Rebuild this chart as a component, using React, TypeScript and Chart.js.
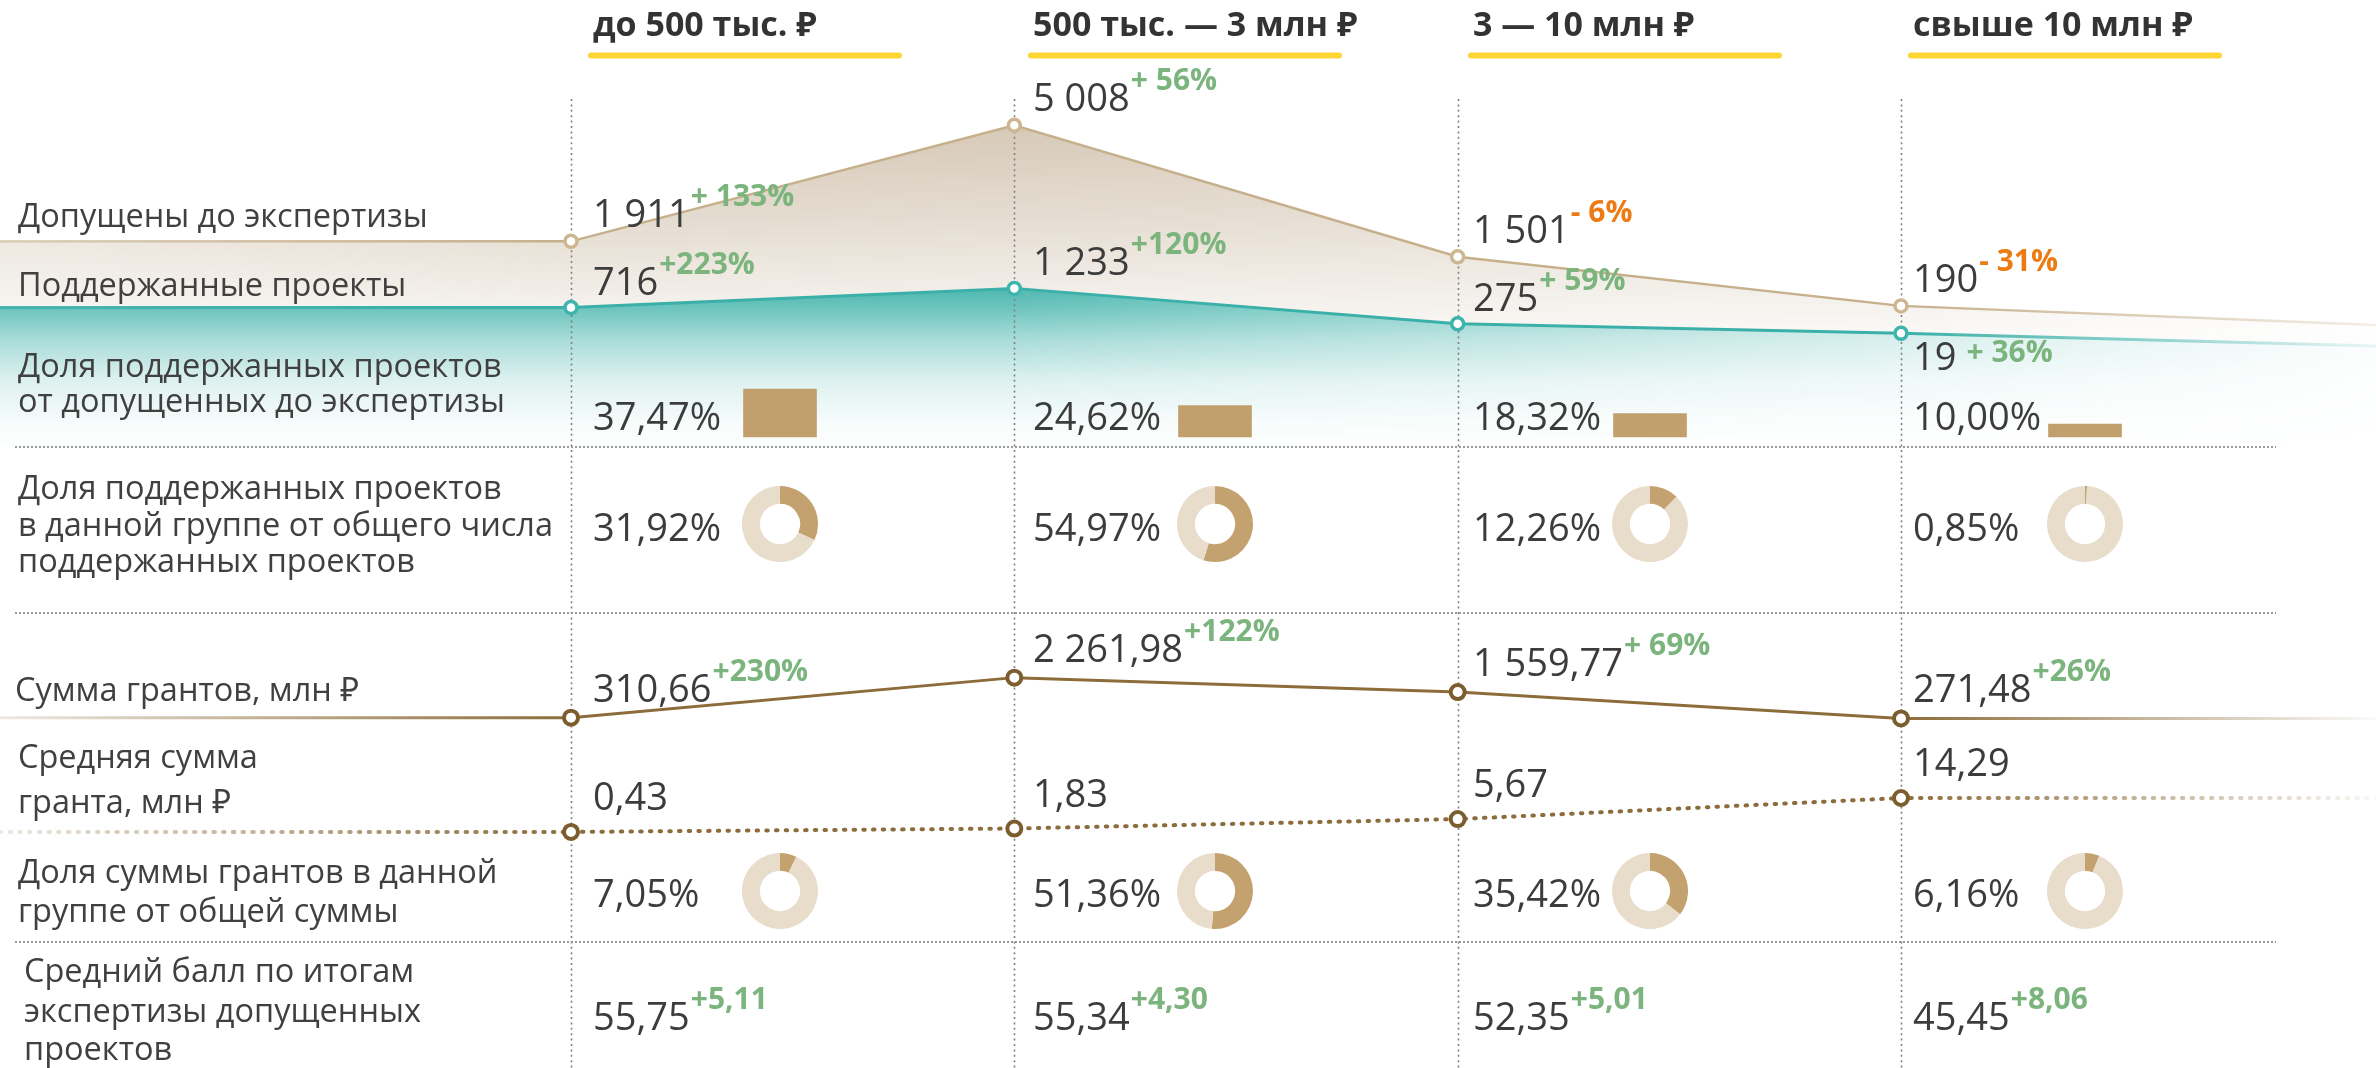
import React, { useEffect, useRef } from 'react';
import { Chart, registerables } from 'chart.js';

Chart.register(...registerables);

// ---------------- data ----------------
const groups = ['до 500 тыс. ₽', '500 тыс. — 3 млн ₽', '3 — 10 млн ₽', 'свыше 10 млн ₽'];

const admitted = [1911, 5008, 1501, 190];
const admittedChange = ['+ 133%', '+ 56%', '- 6%', '- 31%'];
const admittedEdges = [1911, -320]; // line level read at the left / right page edge

const supported = [716, 1233, 275, 19];
const supportedChange = ['+223%', '+120%', '+ 59%', '+ 36%'];
const supportedEdges = [716, -325];

const shareOfAdmitted = [37.47, 24.62, 18.32, 10.0];
const shareOfSupported = [31.92, 54.97, 12.26, 0.85];

const grantSum = [310.66, 2261.98, 1559.77, 271.48];
const grantSumChange = ['+230%', '+122%', '+ 69%', '+26%'];
const grantSumEdges = [310.66, 271.48];

const avgGrant = [0.43, 1.83, 5.67, 14.29];
const avgGrantEdges = [0.43, 14.29];

const shareOfGrantSum = [7.05, 51.36, 35.42, 6.16];

const avgScore = [55.75, 55.34, 52.35, 45.45];
const avgScoreChange = ['+5,11', '+4,30', '+5,01', '+8,06'];

const rowLabels = [
  ['Допущены до экспертизы'],
  ['Поддержанные проекты'],
  ['Доля поддержанных проектов', 'от допущенных до экспертизы'],
  ['Доля поддержанных проектов', 'в данной группе от общего числа', 'поддержанных проектов'],
  ['Сумма грантов, млн ₽'],
  ['Средняя сумма', 'гранта, млн ₽'],
  ['Доля суммы грантов в данной', 'группе от общей суммы'],
  ['Средний балл по итогам', 'экспертизы допущенных', 'проектов'],
];

// ---------------- layout ----------------
const W = 2376;
const H = 1068;
const FONT = '"Open Sans", "Noto Sans", "DejaVu Sans", sans-serif';
const TEXT = '#3c3c3c';
const LABEL = '#404040';
const GREEN = '#7bb47d';
const ORANGE = '#ed7b14';
const DONUT = 76;
const DONUT_ROW_Y = [524, 891];

const labelLayout = [
  { x: 18, ys: [227] },
  { x: 18, ys: [296] },
  { x: 18, ys: [377, 412] },
  { x: 18, ys: [499, 536, 572] },
  { x: 15, ys: [701] },
  { x: 18, ys: [768, 813] },
  { x: 18, ys: [883, 922] },
  { x: 24, ys: [982, 1022, 1060] },
];

const xRange = (px0: number, k: number) => ({ min: -px0 / k, max: (W - px0) / k });
const yRange = (zero: number, k: number) => ({ min: (zero - H) / k, max: zero / k });

const COL = xRange(571, (1901 - 571) / 3);
const TXT = xRange(593, 440);
const BAR = xRange(780, 435);

const fmtInt = (v: number | string) => String(v).replace(/\B(?=(\d{3})+(?!\d))/g, ' ');
const fmtDec = (v: number) => {
  const [a, b] = v.toFixed(2).split('.');
  return fmtInt(a) + ',' + b;
};

const withEdges = (vals: number[], edges: number[]) => [
  { x: COL.min, y: edges[0] },
  ...vals.map((v, i) => ({ x: i, y: v })),
  { x: COL.max, y: edges[1] },
];

const pointR = (r: number) => (c: any) =>
  c.dataIndex === 0 || c.dataIndex === c.dataset.data.length - 1 ? 0 : r;

const clamp = (v: number) => Math.max(0, Math.min(1, v));

function lineGrad(chart: any, rgb: string, aL: number, aR: number) {
  const { ctx, width } = chart;
  const x = chart.scales.x;
  const g = ctx.createLinearGradient(0, 0, width, 0);
  g.addColorStop(0, `rgba(${rgb},${aL})`);
  g.addColorStop(clamp(x.getPixelForValue(0) / width), `rgba(${rgb},1)`);
  g.addColorStop(clamp(x.getPixelForValue(3) / width), `rgba(${rgb},1)`);
  g.addColorStop(1, `rgba(${rgb},${aR})`);
  return g;
}
const scriptLine = (rgb: string, aL: number, aR: number) => (c: any) =>
  c.chart.chartArea ? lineGrad(c.chart, rgb, aL, aR) : `rgb(${rgb})`;

function fadeFill(chart: any, rgb: string, vStops: number[][], hStops: number[][]) {
  const { width, height } = chart;
  const off = document.createElement('canvas');
  off.width = width;
  off.height = height;
  const c = off.getContext('2d')!;
  const vg = c.createLinearGradient(0, 0, 0, height);
  vStops.forEach(([y, a]) => vg.addColorStop(clamp(y / height), `rgba(${rgb},${a})`));
  c.fillStyle = vg;
  c.fillRect(0, 0, width, height);
  c.globalCompositeOperation = 'destination-in';
  const hg = c.createLinearGradient(0, 0, width, 0);
  hStops.forEach(([x, a]) => hg.addColorStop(clamp(x / width), `rgba(0,0,0,${a})`));
  c.fillStyle = hg;
  c.fillRect(0, 0, width, height);
  return chart.ctx.createPattern(off, 'no-repeat');
}
const scriptFill = (rgb: string, v: number[][], h: number[][]) => {
  let cached: any = null;
  return (c: any) => {
    if (!c.chart.chartArea) return 'transparent';
    if (!cached) cached = fadeFill(c.chart, rgb, v, h);
    return cached;
  };
};

const annotate = {
  id: 'annotate',
  beforeDatasetsDraw(chart: any) {
    const { ctx, scales } = chart;
    ctx.save();
    // column guides
    ctx.strokeStyle = '#808080';
    ctx.lineWidth = 1.6;
    ctx.setLineDash([2, 3.4]);
    for (let i = 0; i < groups.length; i++) {
      const x = Math.round(scales.x.getPixelForValue(i)) + 0.5;
      ctx.beginPath();
      ctx.moveTo(x, 99);
      ctx.lineTo(x, H);
      ctx.stroke();
    }
    // row separators
    ctx.strokeStyle = '#9a9a9a';
    ctx.lineWidth = 2;
    ctx.setLineDash([2, 2]);
    [447, 613, 942].forEach((y) => {
      ctx.beginPath();
      ctx.moveTo(15, y);
      ctx.lineTo(2276, y);
      ctx.stroke();
    });
    ctx.restore();
  },
  afterDatasetsDraw(chart: any) {
    const { ctx, scales } = chart;
    const xt = (i: number) => scales.xt.getPixelForValue(i);
    ctx.save();
    ctx.textAlign = 'left';
    ctx.textBaseline = 'alphabetic';

    // headers
    groups.forEach((g, i) => {
      ctx.font = `700 34px ${FONT}`;
      ctx.fillStyle = '#333333';
      ctx.fillText(g, xt(i), 36);
      ctx.strokeStyle = '#fdd535';
      ctx.lineWidth = 6;
      ctx.lineCap = 'round';
      ctx.beginPath();
      ctx.moveTo(xt(i) - 2, 55.5);
      ctx.lineTo(xt(i) + 306, 55.5);
      ctx.stroke();
    });

    // row labels
    ctx.font = `400 32.5px ${FONT}`;
    ctx.fillStyle = LABEL;
    rowLabels.forEach((lines, r) => {
      lines.forEach((t, j) => ctx.fillText(t, labelLayout[r].x, labelLayout[r].ys[j]));
    });

    const drawVal = (text: string, x: number, y: number, change?: string, below?: boolean) => {
      ctx.font = `400 38px ${FONT}`;
      ctx.fillStyle = TEXT;
      ctx.fillText(text, x, y);
      if (change) {
        const w = ctx.measureText(text).width;
        ctx.font = `700 30px ${FONT}`;
        ctx.fillStyle = change.trim().startsWith('-') ? ORANGE : GREEN;
        ctx.fillText(change, x + w + (below ? 10 : 1), y - (below ? 8 : 21));
      }
    };

    admitted.forEach((v, i) => {
      const py = scales.yA.getPixelForValue(v);
      drawVal(fmtInt(v), xt(i), py - 14, admittedChange[i]);
    });
    supported.forEach((v, i) => {
      const py = scales.yS.getPixelForValue(v);
      const above = scales.yA.getPixelForValue(admitted[i]);
      const below = py - above < 40;
      drawVal(fmtInt(v), xt(i), below ? py + 37 : py - 13, supportedChange[i], below);
    });
    shareOfAdmitted.forEach((v, i) => drawVal(fmtDec(v) + '%', xt(i), 430));
    shareOfSupported.forEach((v, i) => drawVal(fmtDec(v) + '%', xt(i), 541));
    grantSum.forEach((v, i) => {
      const py = scales.yG.getPixelForValue(v);
      drawVal(fmtDec(v), xt(i), py - 16, grantSumChange[i]);
    });
    avgGrant.forEach((v, i) => {
      const py = scales.yM.getPixelForValue(v);
      drawVal(fmtDec(v), xt(i), py - 22);
    });
    shareOfGrantSum.forEach((v, i) => drawVal(fmtDec(v) + '%', xt(i), 907));
    avgScore.forEach((v, i) => drawVal(fmtDec(v), xt(i), 1030, avgScoreChange[i]));

    ctx.restore();
  },
};

export default function App() {
  const mainRef = useRef<HTMLCanvasElement | null>(null);
  const wrapRefs = useRef<(HTMLDivElement | null)[]>([]);
  const donutRefs = useRef<(HTMLCanvasElement | null)[]>([]);

  useEffect(() => {
    document.body.style.margin = '0';
    document.body.style.overflow = 'hidden';
    const charts: Chart[] = [];

    const main = new Chart(mainRef.current as HTMLCanvasElement, {
      type: 'line',
      data: {
        datasets: [
          {
            label: 'Допущены до экспертизы',
            data: withEdges(admitted, admittedEdges),
            yAxisID: 'yA',
            xAxisID: 'x',
            borderColor: scriptLine('198,176,140', 0.55, 0.2),
            borderWidth: 2.5,
            fill: '+1',
            backgroundColor: scriptFill(
              '200,182,158',
              [[120, 0.8], [240, 0.42], [335, 0.1]],
              [[0, 0.75], [571, 1], [1901, 0.85], [2376, 0.15]]
            ),
            pointRadius: pointR(6),
            pointBorderWidth: 3.5,
            pointBorderColor: '#cdb791',
            pointBackgroundColor: '#ffffff',
          },
          {
            label: 'Поддержанные проекты',
            data: withEdges(supported, supportedEdges),
            yAxisID: 'yS',
            xAxisID: 'x',
            borderColor: scriptLine('58,176,168', 0.9, 0.1),
            borderWidth: 3,
            fill: 'start',
            backgroundColor: scriptFill(
              '64,178,170',
              [[286, 0.95], [310, 0.75], [340, 0.45], [380, 0.18], [420, 0.05], [450, 0]],
              [[0, 1], [1000, 1], [1462, 0.75], [1901, 0.45], [2376, 0.05]]
            ),
            pointRadius: pointR(6),
            pointBorderWidth: 3.5,
            pointBorderColor: '#3db4ac',
            pointBackgroundColor: '#ffffff',
          },
          {
            label: 'Сумма грантов, млн ₽',
            data: withEdges(grantSum, grantSumEdges),
            yAxisID: 'yG',
            xAxisID: 'x',
            borderColor: scriptLine('140,108,58', 0.15, 0.03),
            borderWidth: 3,
            fill: false,
            pointRadius: pointR(7),
            pointBorderWidth: 4,
            pointBorderColor: '#7b5d2e',
            pointBackgroundColor: '#ffffff',
          },
          {
            label: 'Средняя сумма гранта, млн ₽',
            data: withEdges(avgGrant, avgGrantEdges),
            yAxisID: 'yM',
            xAxisID: 'x',
            borderColor: scriptLine('140,108,58', 0.15, 0.05),
            borderWidth: 4,
            borderDash: [1.5, 8.2],
            borderCapStyle: 'round',
            fill: false,
            pointRadius: pointR(7),
            pointBorderWidth: 4,
            pointBorderColor: '#7b5d2e',
            pointBackgroundColor: '#ffffff',
          },
          {
            type: 'bar',
            label: 'Доля поддержанных от допущенных',
            data: shareOfAdmitted.map((v, i) => ({ x: i, y: v })),
            xAxisID: 'xb',
            yAxisID: 'yB',
            backgroundColor: '#c1a06e',
            borderWidth: 0,
            barThickness: 73,
            grouped: false,
          } as any,
        ],
      },
      options: {
        responsive: false,
        animation: false,
        events: [],
        layout: { padding: 0 },
        plugins: {
          legend: { display: false },
          tooltip: { enabled: false },
          filler: { drawTime: 'beforeDatasetsDraw' },
        } as any,
        scales: {
          x: { type: 'linear', display: false, offset: false, ...COL },
          xt: { type: 'linear', display: false, offset: false, ...TXT },
          xb: { type: 'linear', display: false, offset: false, grid: { offset: false }, ...BAR },
          yA: { type: 'linear', display: false, ...yRange(313, 0.0375) },
          yS: { type: 'linear', display: false, ...yRange(334, 0.037) },
          yG: { type: 'linear', display: false, ...yRange(724, 0.0205) },
          yM: { type: 'linear', display: false, ...yRange(833, 2.45) },
          yB: { type: 'linear', display: false, ...yRange(437, 1.28) },
        } as any,
      },
      plugins: [annotate],
    } as any);
    charts.push(main);

    [shareOfSupported, shareOfGrantSum].forEach((vals, r) => {
      vals.forEach((v, i) => {
        const k = r * 4 + i;
        const wrap = wrapRefs.current[k];
        const cv = donutRefs.current[k];
        if (!wrap || !cv) return;
        const cx = (main.scales as any).xb.getPixelForValue(i);
        wrap.style.left = `${cx - DONUT / 2}px`;
        wrap.style.top = `${DONUT_ROW_Y[r] - DONUT / 2}px`;
        charts.push(
          new Chart(cv, {
            type: 'doughnut',
            data: {
              labels: ['доля', 'остальное'],
              datasets: [
                {
                  data: [v, 100 - v],
                  backgroundColor: ['#c4a26f', '#e8dccb'],
                  borderWidth: 0,
                },
              ],
            },
            options: {
              responsive: false,
              animation: false,
              events: [],
              cutout: '53%',
              layout: { padding: 0 },
              plugins: { legend: { display: false }, tooltip: { enabled: false } },
            },
          } as any)
        );
      });
    });

    return () => charts.forEach((c) => c.destroy());
  }, []);

  return (
    <div style={{ position: 'relative', width: W, height: H, overflow: 'hidden', background: '#ffffff' }}>
      <canvas
        ref={mainRef}
        width={W}
        height={H}
        style={{ position: 'absolute', left: 0, top: 0, width: W, height: H }}
      />
      {Array.from({ length: 8 }).map((_, k) => (
        <div
          key={k}
          ref={(el) => {
            wrapRefs.current[k] = el;
          }}
          style={{ position: 'absolute', width: DONUT, height: DONUT, left: 0, top: 0 }}
        >
          <canvas
            ref={(el) => {
              donutRefs.current[k] = el;
            }}
            width={DONUT}
            height={DONUT}
            style={{ width: DONUT, height: DONUT }}
          />
        </div>
      ))}
    </div>
  );
}
